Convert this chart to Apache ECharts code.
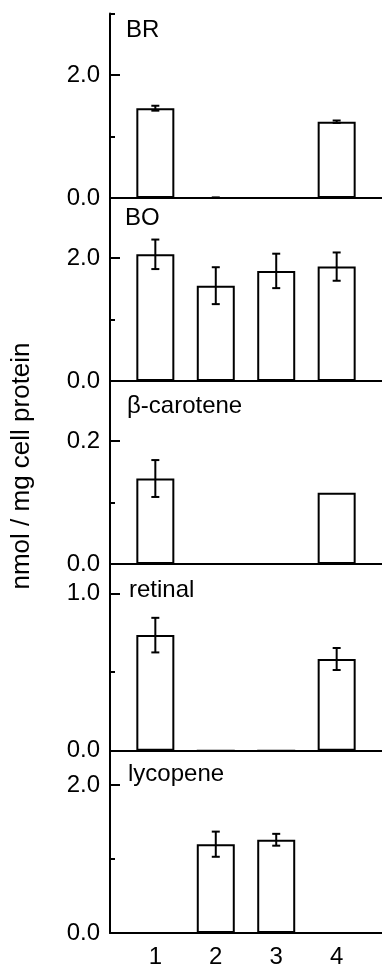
<!DOCTYPE html>
<html>
<head>
<meta charset="utf-8">
<script src="https://cdn.jsdelivr.net/npm/echarts@6/dist/echarts.min.js"></script>
<style>
html,body{margin:0;padding:0;background:#fff;}
#chart{width:382px;height:969px;}
</style>
</head>
<body>
<div id="chart"></div>
<script>
// 数据
var cats = [1, 2, 3, 4];
var panelNames = ['BR', 'BO', 'β-carotene', 'retinal', 'lycopene'];
var brVal = [1.46, 0, 0, 1.24];
var brErr = [0.04, 0.01, 0, 0.02];
var boVal = [2.06, 1.55, 1.79, 1.86];
var boErr = [0.24, 0.30, 0.28, 0.23];
var bcVal = [0.139, 0, 0, 0.116];
var bcErr = [0.030, 0, 0, 0];
var retVal = [0.735, 0, 0, 0.583];
var retErr = [0.11, 0, 0, 0.07];
var lycVal = [0, 1.20, 1.26, 0];
var lycErr = [0, 0.17, 0.08, 0];
var yMax = [3.0, 3.0, 0.3, 1.2, 2.5];
var yLabels = [[0, 2], [0, 2], [0, 0.2], [0, 1], [0, 2]];
var yMajor = [[2], [2], [0.2], [1], [2]];
var yMinor = [[1, 3], [1], [0.1], [0.5], [1]];
var yTitle = 'nmol / mg cell protein';

var allVal = [brVal, boVal, bcVal, retVal, lycVal];
var allErr = [brErr, boErr, bcErr, retErr, lycErr];

// 每个面板的位置 (top, height)
var gridPos = [[13.5, 184.5], [196.5, 184.5], [379.5, 184.5], [562, 188.7], [748, 185.3]];
var labelPos = [[126, 30], [125, 218], [127, 406], [129, 590], [128, 774]];

var fontFam = '"Liberation Sans", Arial, Helvetica, sans-serif';
var grids = [], xAxes = [], yAxes = [], series = [], graphics = [];

function errItem(params, api) {
	var x = api.value(0), v = api.value(1), e = api.value(2);
	if (!e) return;
	var top = api.coord([x, v + e]);
	var bot = api.coord([x, Math.max(v - e, 0)]);
	var w = 4;
	var st = {stroke: '#000', lineWidth: 2};
	return {
		type: 'group',
		children: [
			{type: 'line', shape: {x1: top[0], y1: top[1], x2: bot[0], y2: bot[1]}, style: st},
			{type: 'line', shape: {x1: top[0] - w, y1: top[1], x2: top[0] + w, y2: top[1]}, style: st},
			{type: 'line', shape: {x1: bot[0] - w, y1: bot[1], x2: bot[0] + w, y2: bot[1]}, style: st}
		]
	};
}

for (var i = 0; i < 5; i++) {
	grids.push({left: 110, right: 0, top: gridPos[i][0], height: gridPos[i][1]});
	var last = (i == 4);
	xAxes.push({
		type: 'value', gridIndex: i, min: 0.25, max: 4.75,
		axisLine: {show: true, onZero: false, lineStyle: {color: '#000', width: 2}},
		axisTick: {show: false},
		splitLine: {show: false},
		axisLabel: {
			show: last, customValues: cats, margin: 12,
			color: '#000', fontSize: 24, fontFamily: fontFam
		}
	});
	// 主刻度和标签
	yAxes.push({
		type: 'value', gridIndex: i, position: 'left', min: 0, max: yMax[i],
		axisLine: {show: true, lineStyle: {color: '#000', width: 2}},
		splitLine: {show: false},
		axisTick: {show: true, inside: true, length: 10, customValues: yMajor[i], lineStyle: {color: '#000', width: 2}},
		axisLabel: {
			customValues: yLabels[i], margin: 10,
			color: '#000', fontSize: 24, fontFamily: fontFam,
			formatter: function (v) { return v.toFixed(1); }
		}
	});
	// 次刻度
	yAxes.push({
		type: 'value', gridIndex: i, position: 'left', offset: 0, min: 0, max: yMax[i],
		axisLine: {show: false},
		splitLine: {show: false},
		axisLabel: {show: false},
		axisTick: {show: true, inside: true, length: 5, customValues: yMinor[i], lineStyle: {color: '#000', width: 2}}
	});
	var barData = [], errData = [];
	for (var j = 0; j < cats.length; j++) {
		barData.push([cats[j], allVal[i][j]]);
		errData.push([cats[j], allVal[i][j], allErr[i][j]]);
	}
	series.push({
		type: 'bar', xAxisIndex: i, yAxisIndex: i * 2,
		barWidth: 38, silent: true,
		itemStyle: {color: '#fff', borderColor: '#000', borderWidth: 2},
		data: barData
	});
	series.push({
		type: 'custom', xAxisIndex: i, yAxisIndex: i * 2,
		renderItem: errItem, silent: true, z: 5,
		data: errData
	});
	graphics.push({
		type: 'text', left: labelPos[i][0], top: labelPos[i][1] - 12,
		style: {text: panelNames[i], fill: '#000', font: '24px ' + fontFam}
	});
}

graphics.push({
	type: 'text', x: 22, y: 466, rotation: Math.PI / 2,
	style: {text: yTitle, fill: '#000', font: '26px ' + fontFam, align: 'center', verticalAlign: 'middle'}
});

var option = {
	animation: false,
	backgroundColor: '#fff',
	grid: grids,
	xAxis: xAxes,
	yAxis: yAxes,
	series: series,
	graphic: graphics
};

var myChart = echarts.init(document.getElementById('chart'));
myChart.setOption(option);
</script>
</body>
</html>
